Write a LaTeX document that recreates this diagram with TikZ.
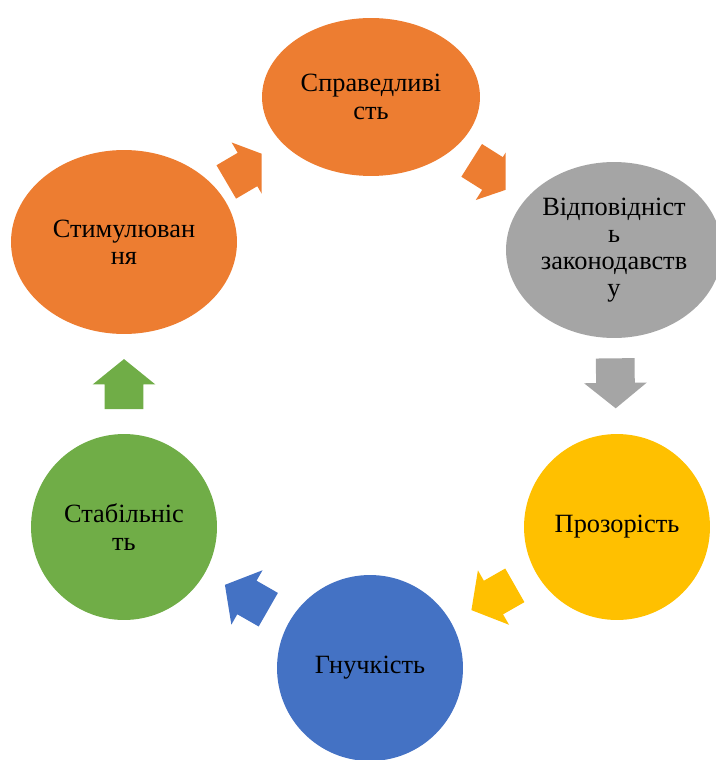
\documentclass[tikz,border=0pt]{standalone}
\usepackage{fontspec}
\setmainfont{Liberation Serif}
\usetikzlibrary{shapes.geometric,shapes.arrows}

\definecolor{orangeacc}{HTML}{ED7D31}
\definecolor{grayacc}{HTML}{A5A5A5}
\definecolor{yellowacc}{HTML}{FFC000}
\definecolor{blueacc}{HTML}{4472C4}
\definecolor{greenacc}{HTML}{70AD47}

\begin{document}
\begin{tikzpicture}[x=0.02cm,y=-0.02cm]
  \tikzstyle{stage}=[inner sep=0pt,align=center,font=\fontsize{15}{15.5}\selectfont]
  \tikzstyle{oval}=[stage,ellipse]
  \tikzstyle{disc}=[stage,circle,minimum size=3.72cm]
  \tikzstyle{cyclearrow}=[single arrow,sloped,allow upside down,pos=0.474,inner xsep=0pt,inner ysep=0.38cm,
    minimum height=1cm,single arrow head extend=0.24cm,single arrow tip angle=102]
  \useasboundingbox (0,0) rectangle (716,760);

  % stages
  \node[oval,fill=orangeacc,minimum width=4.36cm,minimum height=3.16cm] (justice) at (371,97) {Справедливі\\сть};
  \node[oval,fill=grayacc,minimum width=4.32cm,minimum height=3.52cm] (conformity) at (614,250) {Відповідніст\\ь\\законодавств\\у};
  \node[disc,fill=yellowacc] (transparency) at (617,527) {Прозорість};
  \node[disc,fill=blueacc] (flexibility) at (370,668) {Гнучкість};
  \node[disc,fill=greenacc] (stability) at (124,527) {Стабільніс\\ть};
  \node[oval,fill=orangeacc,minimum width=4.52cm,minimum height=3.68cm] (incentive) at (124,242) {Стимулюван\\ня};

  % arrows
  \begin{scope}
    \clip ([xshift=-8cm,yshift=-4cm]justice.west) rectangle ([yshift=4cm]justice.west);
    \path (incentive.center) -- node[cyclearrow,fill=orangeacc] (arrowA) {} (justice.center);
  \end{scope}
  \begin{scope}
    \clip ([xshift=-8cm,yshift=-4cm]conformity.west) rectangle ([yshift=4cm]conformity.west);
    \path (justice.center) -- node[cyclearrow,fill=orangeacc] (arrowB) {} (conformity.center);
  \end{scope}
  \path (conformity.center) -- node[cyclearrow,fill=grayacc,pos=0.453] (arrowC) {} (transparency.center);
  \path (transparency.center) -- node[cyclearrow,fill=yellowacc] (arrowD) {} (flexibility.center);
  \path (flexibility.center) -- node[cyclearrow,fill=blueacc] (arrowE) {} (stability.center);
  \path (stability.center) -- node[cyclearrow,fill=greenacc] (arrowF) {} (incentive.center);
\end{tikzpicture}
\end{document}
